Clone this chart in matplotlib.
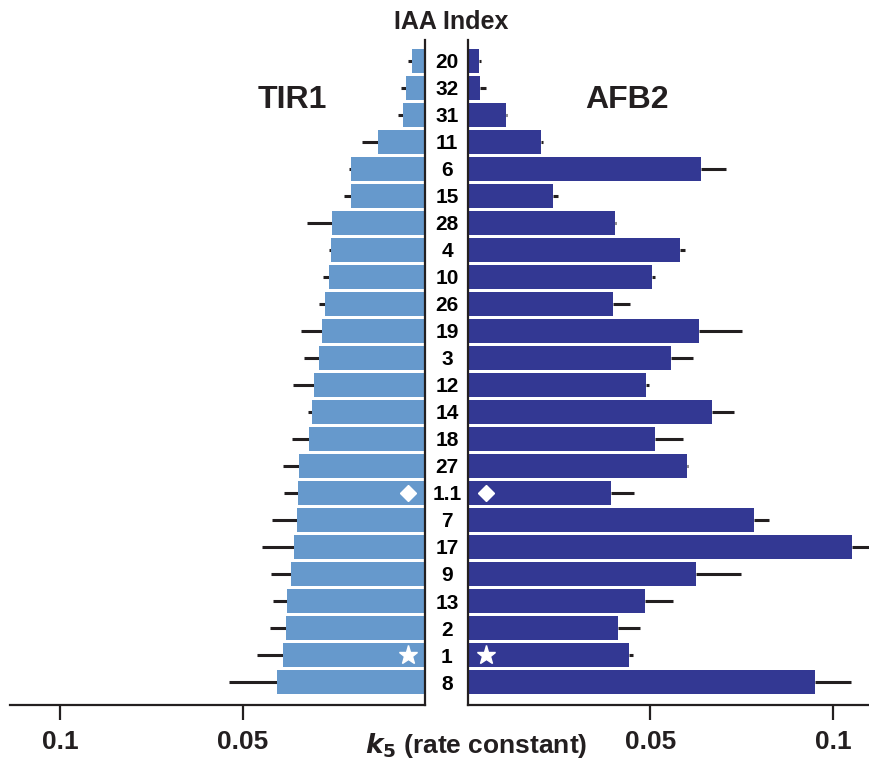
import matplotlib
matplotlib.use("Agg")
import matplotlib.pyplot as plt

plt.rcParams['font.family'] = ['Liberation Sans', 'DejaVu Sans']
plt.rcParams['font.weight'] = 'bold'
plt.rcParams['mathtext.fontset'] = 'custom'
plt.rcParams['mathtext.it'] = 'Liberation Sans Narrow:italic:bold'
plt.rcParams['mathtext.rm'] = 'Liberation Sans Narrow:bold'
plt.rcParams['mathtext.bf'] = 'Liberation Sans Narrow:bold'

narrow = ['Liberation Sans Narrow', 'Liberation Sans', 'DejaVu Sans']

# IAA index labels, top to bottom
iaa = ['20', '32', '31', '11', '6', '15', '28', '4', '10', '26', '19', '3', '12',
       '14', '18', '27', '1.1', '7', '17', '9', '13', '2', '1', '8']

# k5 rate constants and one-sided errors
tir1 = [0.0035, 0.0051, 0.0059, 0.0128, 0.0203, 0.0203, 0.0254, 0.0258, 0.0263,
        0.0274, 0.0281, 0.0290, 0.0304, 0.0310, 0.0318, 0.0345, 0.0348, 0.0351,
        0.0359, 0.0367, 0.0378, 0.0381, 0.0389, 0.0405]
tir1_err = [0.0012, 0.0014, 0.0014, 0.0044, 0.0004, 0.0019, 0.0068, 0.0004, 0.0016,
            0.0016, 0.0058, 0.0042, 0.0057, 0.0011, 0.0047, 0.0044, 0.0039, 0.0068,
            0.0088, 0.0054, 0.0038, 0.0045, 0.0072, 0.0132]
afb2 = [0.0030, 0.0033, 0.0104, 0.0199, 0.0638, 0.0232, 0.0402, 0.0580, 0.0504,
        0.0397, 0.0633, 0.0556, 0.0488, 0.0668, 0.0512, 0.0599, 0.0391, 0.0784,
        0.1052, 0.0625, 0.0485, 0.0410, 0.0441, 0.0951]
afb2_err = [0.0005, 0.0016, 0.0004, 0.0006, 0.0070, 0.0016, 0.0004, 0.0014, 0.0008,
            0.0048, 0.0118, 0.0061, 0.0007, 0.0060, 0.0076, 0.0005, 0.0063, 0.0042,
            0.0060, 0.0122, 0.0076, 0.0062, 0.0011, 0.0099]

ticks = [0.05, 0.1]
tick_labels = ['0.05', '0.1']

light = '#6699cc'
dark = '#333893'
ink = '#231f20'

fig = plt.figure(figsize=(8.69, 7.65), dpi=100)
bottom, height = 1 - 705 / 765, 665 / 765
axl = fig.add_axes([10 / 869, bottom, 415 / 869, height])
axr = fig.add_axes([468 / 869, bottom, 401 / 869, height])

y = list(range(len(iaa)))
n = len(iaa)

for ax, vals, errs, col in [(axl, tir1, tir1_err, light), (axr, afb2, afb2_err, dark)]:
    ax.errorbar(vals, y, xerr=[[0] * n, errs], fmt='none', ecolor=ink,
                elinewidth=2.2, capsize=0, zorder=1, clip_on=False)
    ax.barh(y, vals, height=0.91, color=col, zorder=2)
    ax.set_ylim(n - 1 + 0.85, -0.77)
    ax.set_yticks([])
    ax.set_xticks(ticks)
    ax.set_xticklabels(tick_labels, family=narrow, fontsize=19, fontweight='bold')
    ax.tick_params(axis='x', length=11, width=1.6, direction='out', pad=7,
                   colors=ink)
    for s in ['top', 'left', 'right']:
        ax.spines[s].set_visible(False)
    ax.spines['bottom'].set_linewidth(1.6)
    ax.spines['bottom'].set_color(ink)

axl.set_xlim(0.1137, 0)
axl.spines['right'].set_visible(True)
axl.spines['right'].set_linewidth(1.6)
axl.spines['right'].set_color(ink)
axr.set_xlim(0, 0.1099)
axr.spines['left'].set_visible(True)
axr.spines['left'].set_linewidth(1.6)
axr.spines['left'].set_color(ink)

# markers for IAA 1.1 and IAA 1
i11 = iaa.index('1.1')
i1 = iaa.index('1')
axl.plot([0.0047], [i11], marker='D', color='white', markersize=8.5, zorder=3)
axr.plot([0.0050], [i11], marker='D', color='white', markersize=8.5, zorder=3)
axl.plot([0.0047], [i1], marker='*', color='white', markersize=14, zorder=3)
axr.plot([0.0050], [i1], marker='*', color='white', markersize=14, zorder=3)

# centre labels
for i, lab in enumerate(iaa):
    axl.annotate(lab, xy=(0, i), xycoords='data', xytext=(22, -2),
                 textcoords='offset pixels', ha='center', va='center',
                 fontsize=15, fontweight='bold', color='black', annotation_clip=False,
                 family=narrow)

fig.text(451 / 869, 1 - 22 / 765, 'IAA Index', ha='center', va='center',
         fontsize=18, fontweight='bold', color=ink)
fig.text(292 / 869, 1 - 100 / 765, 'TIR1', ha='center', va='center',
         fontsize=23, fontweight='bold', color=ink)
fig.text(627 / 869, 1 - 100 / 765, 'AFB2', ha='center', va='center',
         fontsize=23, fontweight='bold', color=ink)
fig.text(476 / 869, 1 - 746 / 765, r'$k_\mathbf{5}$ (rate constant)', ha='center',
         va='center', fontsize=19, fontweight='bold', color=ink, family=narrow)

fig.savefig('out.png', dpi=100)
